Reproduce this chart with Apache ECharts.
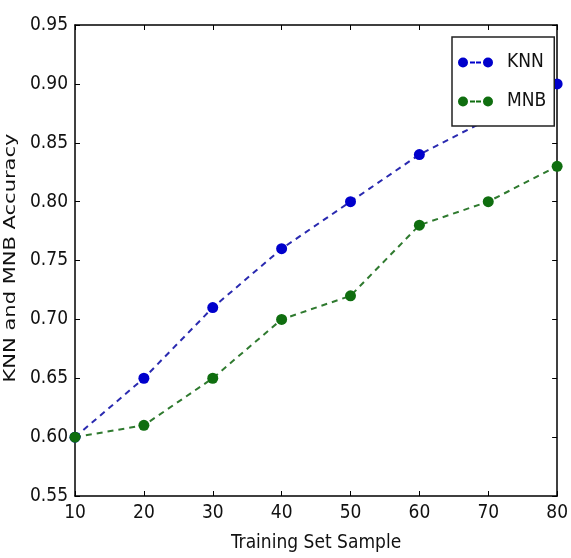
<!DOCTYPE html>
<html>
<head>
<meta charset="utf-8">
<script src="https://cdn.jsdelivr.net/npm/echarts@6/dist/echarts.min.js"></script>
<style>
html,body{margin:0;padding:0;background:#fff;}
#c{width:571px;height:558px;}
</style>
</head>
<body>
<div id="c"></div>
<script>
const samples = [10, 20, 30, 40, 50, 60, 70, 80];
const knnAccuracy = [0.60, 0.65, 0.71, 0.76, 0.80, 0.84, 0.87, 0.90];
const mnbAccuracy = [0.60, 0.61, 0.65, 0.70, 0.72, 0.78, 0.80, 0.83];
const seriesNames = ['KNN', 'MNB'];
const xTitle = 'Training Set Sample';
const yTitle = 'KNN and MNB Accuracy';

const NARROW = "'Liberation Sans Narrow', 'DejaVu Sans Condensed', 'Roboto Condensed', sans-serif";
const BLUE = '#0000cc';
const GREEN = '#0f6e0f';

const chart = echarts.init(document.getElementById('c'), null, {renderer: 'canvas'});

function pts(vals) { return samples.map((s, i) => [s, vals[i]]); }

const iconPath = 'path://M0,5 A5,5 0 1,1 10,5 A5,5 0 1,1 0,5 Z M12,4 L17,4 L17,6 L12,6 Z M18,4 L23,4 L23,6 L18,6 Z M25,5 A5,5 0 1,1 35,5 A5,5 0 1,1 25,5 Z';

const frameLine = {show: true, onZero: false, lineStyle: {color: '#000', width: 1.5}};
const inTick = {show: true, inside: true, length: 5, lineStyle: {color: '#000', width: 1}};

chart.setOption({
  animation: false,
  backgroundColor: '#fff',
  grid: {left: 75, right: 8, top: 25, bottom: 61, containLabel: false},
  legend: {
    data: seriesNames.map(n => ({name: n, icon: iconPath})),
    orient: 'vertical',
    left: 452, top: 37,
    itemWidth: 35, itemHeight: 11,
    itemGap: 20,
    padding: [16, 8, 15, 6],
    borderColor: '#222', borderWidth: 1.5,
    backgroundColor: '#fff',
    textStyle: {fontFamily: NARROW, fontSize: 19, color: '#111', padding: [0, 0, 0, 9]}
  },
  xAxis: [{
    type: 'value', min: 10, max: 80, interval: 10,
    axisLine: frameLine, axisTick: inTick, splitLine: {show: false},
    axisLabel: {fontFamily: NARROW, fontSize: 19, color: '#111', margin: 8},
    name: xTitle, nameLocation: 'middle', nameGap: 38,
    nameTextStyle: {fontFamily: NARROW, fontSize: 19, color: '#111'}
  }, {
    type: 'value', position: 'top', min: 10, max: 80, interval: 10,
    axisLine: frameLine, axisTick: inTick, axisLabel: {show: false}, splitLine: {show: false}
  }],
  yAxis: [{
    type: 'value', min: 0.55, max: 0.95, interval: 0.05,
    axisLine: frameLine, axisTick: inTick, splitLine: {show: false},
    axisLabel: {fontFamily: NARROW, fontSize: 19, color: '#111', margin: 7,
      formatter: v => v.toFixed(2)}
  }, {
    type: 'value', position: 'right', min: 0.55, max: 0.95, interval: 0.05,
    axisLine: frameLine, axisTick: inTick, axisLabel: {show: false}, splitLine: {show: false}
  }],
  graphic: [{
    type: 'text',
    x: 11, y: 258,
    rotation: Math.PI / 2,
    scaleY: 0.72,
    style: {
      text: yTitle,
      fontFamily: "'DejaVu Sans', sans-serif",
      fontSize: 21,
      fill: '#111',
      align: 'center',
      verticalAlign: 'middle'
    },
    originX: 0, originY: 0
  }],
  series: [{
    name: seriesNames[0], type: 'line', data: pts(knnAccuracy),
    symbol: 'circle', symbolSize: 11, z: 3,
    itemStyle: {color: BLUE},
    lineStyle: {color: '#2a2ab0', width: 2, type: [6, 5]}
  }, {
    name: seriesNames[1], type: 'line', data: pts(mnbAccuracy),
    symbol: 'circle', symbolSize: 11, z: 3,
    itemStyle: {color: GREEN},
    lineStyle: {color: '#2f7a2f', width: 2, type: [6, 5]}
  }]
});
</script>
</body>
</html>
